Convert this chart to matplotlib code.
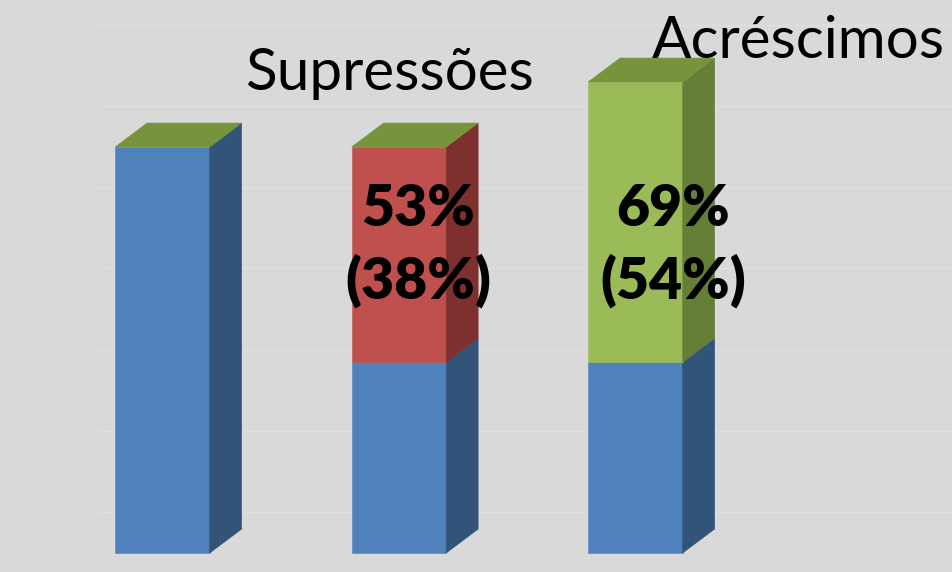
import matplotlib.pyplot as plt
from matplotlib.patches import Polygon

# data (percent of the original total)
categories = ['Original', 'Supressões', 'Acréscimos']
base = [100, 47, 47]
supressoes = [0, 53, 0]
acrescimos = [0, 0, 69]
pct_labels = [None, ('53%', '(38%)'), ('69%', '(54%)')]
grid_vals = [0, 20, 40, 60, 80, 100, 120]

bg = '#d9d9d9'
fig = plt.figure(figsize=(9.53, 5.72), dpi=100)
fig.patch.set_facecolor(bg)
ax = fig.add_axes([0, 0, 1, 1])
ax.set_xlim(-0.687, 3.343)
ax.set_ylim(-4.68, 136.2)
ax.axis('off')

w = 0.40                 # bar width (category units)
ddx, ddy = 0.135, 5.9    # 3d depth offset of the bars
wall_dy = 10.1           # back wall offset
side_dx, side_dy = -0.347, -14.8

# back wall / side wall gridlines
for g in grid_vals:
    y = g + wall_dy
    ax.plot([-0.264 + side_dx, -0.264], [y + side_dy, y],
            color='#dddddd', lw=1.0, zorder=0)
    ax.plot([-0.264, 3.4], [y, y], color='#e0e0e0', lw=1.0, zorder=0)


def box(x0, y0, h, front, side, top=None):
    x1 = x0 + w
    kw = dict(lw=0.4, zorder=2)
    ax.add_patch(Polygon([(x0, y0), (x1, y0), (x1, y0 + h), (x0, y0 + h)],
                         facecolor=front, edgecolor=front, **kw))
    ax.add_patch(Polygon([(x1, y0), (x1 + ddx, y0 + ddy),
                          (x1 + ddx, y0 + h + ddy), (x1, y0 + h)],
                         facecolor=side, edgecolor=side, **kw))
    if top:
        ax.add_patch(Polygon([(x0, y0 + h), (x1, y0 + h),
                              (x1 + ddx, y0 + h + ddy), (x0 + ddx, y0 + h + ddy)],
                             facecolor=top, edgecolor=top, **kw))


series = [
    (base, '#4f81bd', '#325479'),
    (supressoes, '#c0504d', '#7e302e'),
    (acrescimos, '#9bbb59', '#667f37'),
]
top_col = '#77933c'

for i in range(len(categories)):
    bottom = 0
    segs = [(s[i], f, sd) for s, f, sd in series if s[i] > 0]
    for k, (v, f, sd) in enumerate(segs):
        box(i - w / 2, bottom, v, f, sd, top_col if k == len(segs) - 1 else None)
        bottom += v

# titles above the bars
font = 'Lato'
ax.text(0.958, 114.0, 'Supressões', ha='center', va='baseline',
        fontsize=42, family=font, color='black', zorder=5)
ax.text(2.687, 121.9, 'Acréscimos', ha='center', va='baseline',
        fontsize=42, family=font, color='black', zorder=5)

# percentage labels
label_dx = [0, 0.08, 0.159]
for i, lab in enumerate(pct_labels):
    if lab is None:
        continue
    ax.text(i + label_dx[i], 80.5, lab[0], ha='center', va='baseline',
            fontsize=41, fontweight='heavy', family=font, zorder=5)
    ax.text(i + label_dx[i], 62.6, lab[1], ha='center', va='baseline',
            fontsize=41, fontweight='heavy', family=font, zorder=5)

fig.savefig('out.png', dpi=100, facecolor=bg)
